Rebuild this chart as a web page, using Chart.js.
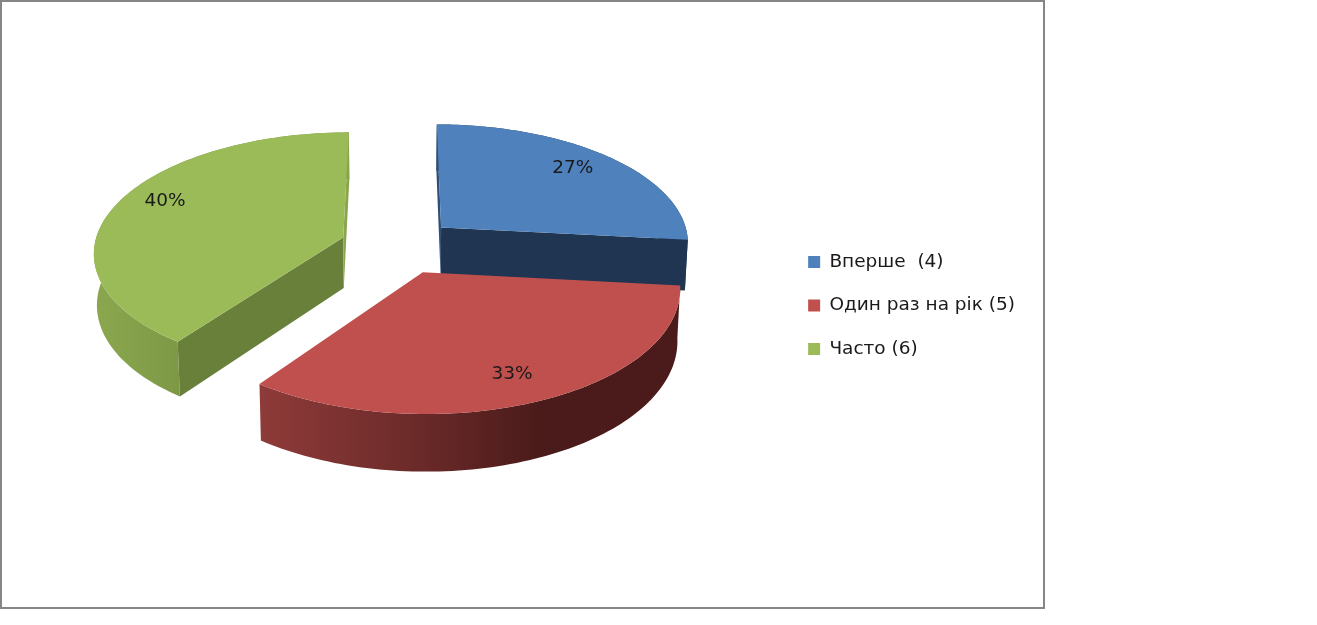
<!DOCTYPE html>
<html>
<head>
<meta charset="utf-8">
<title>Pie</title>
<script src="https://cdn.jsdelivr.net/npm/chart.js@4"></script>
<style>
  html, body { margin: 0; padding: 0; background: #fff; }
  #box { position: absolute; left: 0; top: 0; width: 1045px; height: 609px; box-sizing: border-box; border: 2px solid #868686; }
  #piechart { position: absolute; left: -2px; top: -2px; }
</style>
</head>
<body>
<div id="box"><canvas id="piechart" width="1045" height="609"></canvas></div>
<script>
var categories = ["Вперше  (4)", "Один раз на рік (5)", "Часто (6)"];
var counts = [4, 5, 6];
var topColours = ["#4f81bd", "#c0504d", "#9bbb59"];
var startEdgeColours = ["#2f4f78", "#6f2c2b", "#69803a"];
var endEdgeColours = ["#1f3552", "#6f2c2b", "#8aa64d"];
// outer wall shading, left to right of each slice
var wallStops = [
  ["#1f3552", "#1f3552"],
  ["#8e3b39", "#6f2c2b", "#4a1b1a", "#4a1b1a"],
  ["#8ba74e", "#7e9946", "#7e9946", "#7e9946"]
];
var paintOrder = [2, 0, 1];
// small nudges so the percent text sits where it does in the picture
var labelNudge = [[-3, -1], [-4, 2], [3, -8]];

// fake 3d camera for the pie, excel style
var cam = { cx: 398.4, cy: 246, rx: 249, ry: 119, persp: 0.115, depth: 51, shrink: 0.99, explode: 0.235 };

function project(X, Y, low) {
  var d = 1 - cam.persp * Y;
  var s = low ? cam.shrink : 1;
  return {
    x: cam.cx + cam.rx * X / d * s,
    y: cam.cy + cam.ry * Y / d * s + (low ? cam.depth / d : 0)
  };
}

function tracePoints(ctx, pts) {
  ctx.beginPath();
  pts.forEach(function(p, i) {
    if (i === 0) { ctx.moveTo(p.x, p.y); } else { ctx.lineTo(p.x, p.y); }
  });
  ctx.closePath();
}

function drawRadialWall(ctx, ox, oy, angle, mid, colour) {
  var X = ox + Math.cos(angle), Y = oy + Math.sin(angle);
  var a = project(ox, oy, false), b = project(X, Y, false);
  var m = project(ox + Math.cos(mid) * 0.6, oy + Math.sin(mid) * 0.6, false);
  var ex = b.x - a.x, ey = b.y - a.y;
  var side = ex * (m.y - a.y) - ey * (m.x - a.x);
  // only walls on the lower side of the slice can be seen
  if (side * ex >= 0) { return; }
  tracePoints(ctx, [a, b, project(X, Y, true), project(ox, oy, true)]);
  ctx.fillStyle = colour;
  ctx.fill();
}

var pie3d = {
  id: "pie3d",
  beforeDatasetDraw: function(chart) {
    var ctx = chart.ctx;
    var arcs = chart.getDatasetMeta(0).data;
    ctx.save();
    paintOrder.forEach(function(i) {
      var arc = arcs[i];
      var mid = (arc.startAngle + arc.endAngle) / 2;
      var ox = Math.cos(mid) * cam.explode, oy = Math.sin(mid) * cam.explode;
      var top = [], low = [], steps = 90, minX = 9999, maxX = -9999;
      for (var n = 0; n <= steps; n++) {
        var t = arc.startAngle + (arc.endAngle - arc.startAngle) * n / steps;
        var p = project(ox + Math.cos(t), oy + Math.sin(t), false);
        top.push(p);
        low.push(project(ox + Math.cos(t), oy + Math.sin(t), true));
        minX = Math.min(minX, p.x);
        maxX = Math.max(maxX, p.x);
      }
      // outer wall
      var grad = ctx.createLinearGradient(minX, 0, maxX, 0);
      wallStops[i].forEach(function(c, k) { grad.addColorStop(k / (wallStops[i].length - 1), c); });
      tracePoints(ctx, top.concat(low.slice().reverse()));
      ctx.fillStyle = grad;
      ctx.fill();
      // cut faces
      drawRadialWall(ctx, ox, oy, arc.startAngle, mid, startEdgeColours[i]);
      drawRadialWall(ctx, ox, oy, arc.endAngle, mid, endEdgeColours[i]);
      // top face
      tracePoints(ctx, [project(ox, oy, false)].concat(top));
      ctx.fillStyle = topColours[i];
      ctx.fill();
    });

    // percent labels
    var total = counts.reduce(function(a, b) { return a + b; }, 0);
    ctx.fillStyle = "#1a1a1a";
    ctx.font = "18.5px 'DejaVu Sans'";
    ctx.textAlign = "center";
    ctx.textBaseline = "middle";
    arcs.forEach(function(arc, i) {
      var mid = (arc.startAngle + arc.endAngle) / 2;
      var r = cam.explode + 0.8;
      var p = project(Math.cos(mid) * r, Math.sin(mid) * r, false);
      ctx.fillText(Math.round(counts[i] / total * 100) + "%", p.x + labelNudge[i][0], p.y + labelNudge[i][1]);
    });
    ctx.restore();
    return false;
  }
};

var myPieChart = new Chart(document.getElementById("piechart").getContext("2d"), {
  type: "pie",
  data: {
    labels: categories,
    datasets: [{
      data: counts,
      backgroundColor: topColours,
      borderWidth: 0
    }]
  },
  options: {
    responsive: false,
    animation: false,
    layout: { padding: { right: 20, top: 2 } },
    plugins: {
      tooltip: { enabled: false },
      legend: {
        position: "right",
        labels: {
          boxWidth: 12,
          boxHeight: 12,
          padding: 25,
          color: "#1a1a1a",
          font: { family: "'DejaVu Sans'", size: 18.5 }
        }
      }
    }
  },
  plugins: [pie3d]
});
</script>
</body>
</html>
